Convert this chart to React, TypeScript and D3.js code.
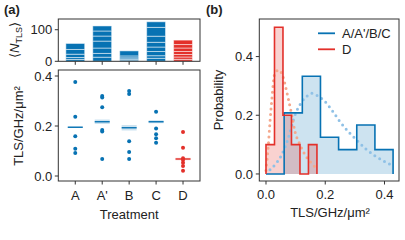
import React from 'react'
import * as d3 from 'd3'

// panel (a)
const treatments = ['A', "A'", 'B', 'C', 'D']
// stacked N_TLS segments per treatment, bottom to top
const nSegments: number[][] = [
  [6, 6, 10.5, 15, 19],
  [13, 12, 17, 22, 16, 16, 16],
  [4, 3, 4, 6, 16],
  [9.5, 8.2, 13.3, 14.2, 15, 19.3, 28, 17.7],
  [6.3, 7.3, 8, 9.5, 11, 11, 14],
]
const densities: number[][] = [
  [0.376, 0.237, 0.159, 0.109, 0.092],
  [0.32, 0.314, 0.275, 0.184, 0.178, 0.068],
  [0.34, 0.328, 0.139, 0.096, 0.068],
  [0.257, 0.19, 0.167, 0.151, 0.133],
  [0.176, 0.113, 0.071, 0.064, 0.053, 0.04, 0.021],
]
const means = [0.195, 0.217, 0.193, 0.217, 0.068]
const meanErr = [0.003, 0.009, 0.011, 0.006, 0.005]

// panel (b)
const abcEdges = [0, 0.0613, 0.1226, 0.1839, 0.2451, 0.3064, 0.3677, 0.429]
const abcProb = [0, 0.208, 0.333, 0.125, 0.083, 0.167, 0.083]
const dEdges = [0, 0.0287, 0.0573, 0.086, 0.1147, 0.1433, 0.172]
const dProb = [0.1, 0.5, 0.2, 0.1, 0, 0.1]
const abcFit: [number, number][] = [
  [0.0135, 0.014], [0.03, 0.031], [0.053, 0.065], [0.075, 0.122], [0.098, 0.201],
  [0.121, 0.246], [0.143, 0.269], [0.154, 0.275], [0.182, 0.261], [0.194, 0.252],
  [0.222, 0.218], [0.25, 0.178], [0.278, 0.144], [0.306, 0.116], [0.334, 0.088],
  [0.363, 0.065], [0.396, 0.045], [0.428, 0.028],
]
const dFit: [number, number][] = [
  [0, 0.012], [0.008, 0.099], [0.0135, 0.178], [0.019, 0.246], [0.03, 0.343],
  [0.044, 0.354], [0.059, 0.326], [0.07, 0.28], [0.075, 0.258], [0.087, 0.201],
  [0.098, 0.144], [0.115, 0.099], [0.132, 0.065], [0.149, 0.042], [0.169, 0.021],
]

const BLUE = '#0772b3'
const RED = '#e3302a'
const AX = '#333'
const FONT = '"Liberation Sans", Arial, sans-serif'

function stepPath(edges: number[], probs: number[], x: d3.ScaleLinear<number, number>, y: d3.ScaleLinear<number, number>) {
  let p = `M${x(edges[0])},${y(0)}`
  probs.forEach((v, i) => {
    p += `L${x(edges[i])},${y(v)}L${x(edges[i + 1])},${y(v)}`
  })
  p += `L${x(edges[edges.length - 1])},${y(0)}`
  return p
}

export default function App() {
  const aL = 58.3, aR = 200
  const x = d3.scalePoint<string>().domain(treatments).range([aL, aR]).padding(0.63)
  const step = x.step()
  const bw = step * 0.7

  const yTop = d3.scaleLinear().domain([0, 134]).range([61.3, 19])
  const yBot = d3.scaleLinear().domain([-0.02, 0.424]).range([181, 70])

  const bx = d3.scaleLinear().domain([-0.0226, 0.449]).range([259.3, 399])
  const by = d3.scaleLinear().domain([-0.024, 0.528]).range([181, 19])

  const fitLine = (s: d3.ScaleLinear<number, number>, t: d3.ScaleLinear<number, number>) =>
    d3.line<[number, number]>().x(d => s(d[0])).y(d => t(d[1])).curve(d3.curveMonotoneX)

  const txt = { fontFamily: FONT, fontSize: 13, fill: '#222' }

  return (
    <svg width={405} height={240} style={{ position: 'absolute', left: 0, top: 0, background: '#fff' }}>
      {/* panel labels */}
      <text x={4} y={14} {...txt} fontWeight="bold">(a)</text>
      <text x={206} y={14} {...txt} fontWeight="bold">(b)</text>

      {/* top bars */}
      {treatments.map((t, i) => {
        let acc = 0
        const col = i === 4 ? RED : BLUE
        return nSegments[i].map((v, j) => {
          const y0 = yTop(acc)
          acc += v
          const y1 = yTop(acc)
          return (
            <rect key={t + j} x={x(t)! - bw / 2} y={y1} width={bw} height={y0 - y1}
              fill={col} stroke="rgba(255,255,255,0.5)" strokeWidth={1} />
          )
        })
      })}
      <rect x={aL} y={19} width={aR - aL} height={61.3 - 19} fill="none" stroke={AX} strokeWidth={1} />
      {[0, 100].map(v => (
        <g key={v}>
          <line x1={aL - 3.5} x2={aL} y1={yTop(v)} y2={yTop(v)} stroke={AX} />
          <text x={aL - 6} y={yTop(v)} dy="0.35em" textAnchor="end" {...txt}>{v}</text>
        </g>
      ))}
      {treatments.map(t => (
        <line key={t} x1={x(t)} x2={x(t)} y1={61.3} y2={64.8} stroke={AX} />
      ))}
      <text transform="translate(19,40) rotate(-90)" textAnchor="middle" {...txt}>
        ⟨<tspan fontStyle="italic">N</tspan>
        <tspan fontSize={9} dy={3}>TLS</tspan>
        <tspan dy={-3}>⟩</tspan>
      </text>

      {/* bottom scatter */}
      {treatments.map((t, i) => {
        const col = i === 4 ? RED : BLUE
        const cx = x(t)!
        return (
          <g key={t}>
            <rect x={cx - 7.5} y={yBot(means[i] + meanErr[i])} width={15}
              height={yBot(means[i] - meanErr[i]) - yBot(means[i] + meanErr[i])}
              fill={col} opacity={0.2} />
            <line x1={cx - 7.5} x2={cx + 7.5} y1={yBot(means[i])} y2={yBot(means[i])} stroke={col} strokeWidth={1.4} />
            {densities[i].map((v, j) => (
              <circle key={j} cx={cx} cy={yBot(v)} r={2} fill={col} />
            ))}
          </g>
        )
      })}
      <rect x={aL} y={70} width={aR - aL} height={111} fill="none" stroke={AX} strokeWidth={1} />
      {[0, 0.2, 0.4].map(v => (
        <g key={v}>
          <line x1={aL - 3.5} x2={aL} y1={yBot(v)} y2={yBot(v)} stroke={AX} />
          <text x={aL - 6} y={yBot(v)} dy="0.35em" textAnchor="end" {...txt}>{v.toFixed(1)}</text>
        </g>
      ))}
      {treatments.map(t => (
        <g key={t}>
          <line x1={x(t)} x2={x(t)} y1={181} y2={184.5} stroke={AX} />
          <text x={x(t)} y={200} textAnchor="middle" {...txt}>{t}</text>
        </g>
      ))}
      <text x={(aL + aR) / 2} y={219} textAnchor="middle" {...txt}>Treatment</text>
      <text transform="translate(23,126) rotate(-90)" textAnchor="middle" {...txt}>TLS/GHz/μm²</text>

      {/* panel b histograms */}
      <path d={stepPath(abcEdges, abcProb, bx, by)} fill={BLUE} fillOpacity={0.2} stroke="none" />
      <path d={stepPath(dEdges, dProb, bx, by)} fill={RED} fillOpacity={0.22} stroke="none" />
      <path d={fitLine(bx, by)(abcFit)!} fill="none" stroke="#8fc1e6" strokeWidth={3}
        strokeDasharray="0 5.6" strokeLinecap="round" />
      <path d={fitLine(bx, by)(dFit)!} fill="none" stroke="#f5a98e" strokeWidth={3}
        strokeDasharray="0 5.6" strokeLinecap="round" />
      <path d={stepPath(abcEdges, abcProb, bx, by)} fill="none" stroke={BLUE} strokeWidth={1.6} />
      <path d={stepPath(dEdges, dProb, bx, by)} fill="none" stroke={RED} strokeWidth={1.6} />

      <rect x={259.3} y={19} width={399 - 259.3} height={162} fill="none" stroke={AX} strokeWidth={1} />
      {[0, 0.2, 0.4].map(v => (
        <g key={v}>
          <line x1={255.8} x2={259.3} y1={by(v)} y2={by(v)} stroke={AX} />
          <text x={253} y={by(v)} dy="0.35em" textAnchor="end" {...txt}>{v.toFixed(1)}</text>
          <line x1={bx(v)} x2={bx(v)} y1={181} y2={184.5} stroke={AX} />
          <text x={bx(v)} y={199} textAnchor="middle" {...txt}>{v.toFixed(1)}</text>
        </g>
      ))}
      <text x={330} y={217} textAnchor="middle" {...txt}>TLS/GHz/μm²</text>
      <text transform="translate(223,100) rotate(-90)" textAnchor="middle" {...txt}>Probability</text>

      {/* legend */}
      <line x1={318} x2={335} y1={33.3} y2={33.3} stroke={BLUE} strokeWidth={1.8} />
      <text x={342} y={33.3} dy="0.35em" {...txt}>A/A'/B/C</text>
      <line x1={318} x2={335} y1={49.3} y2={49.3} stroke={RED} strokeWidth={1.8} />
      <text x={342} y={49.3} dy="0.35em" {...txt}>D</text>
    </svg>
  )
}
